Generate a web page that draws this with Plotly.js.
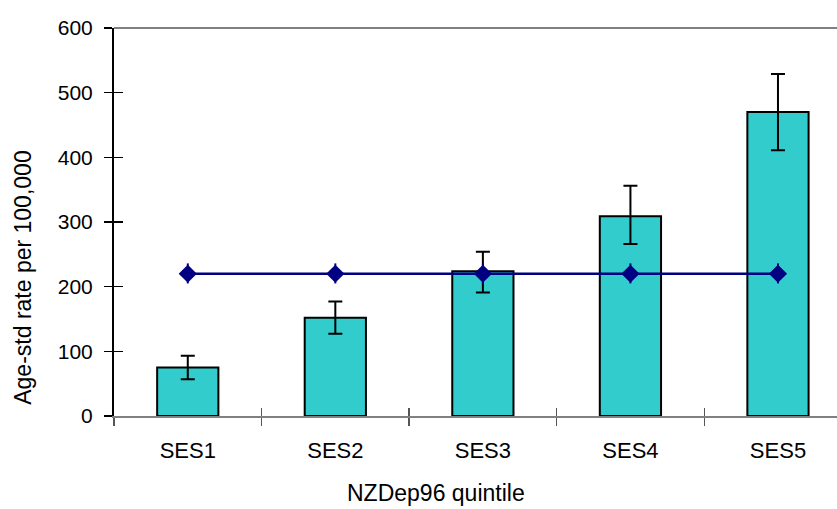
<!DOCTYPE html>
<html><head><meta charset="utf-8">
<script src="https://cdn.plot.ly/plotly-3.0.1.min.js"></script>
<style>html,body{margin:0;padding:0;background:#fff}</style>
</head><body>
<div id="chart" style="width:837px;height:509px"></div>
<script>
const categories = ["SES1", "SES2", "SES3", "SES4", "SES5"];
const rates = [75, 152, 224, 309, 470];
const ciUpper = [93, 177, 254, 356, 529];
const ciLower = [57, 127, 191, 266, 411];
const overallRate = [220, 220, 220, 220, 220];
const overallUpper = [236, 236, 236, 236, 236];
const overallLower = [205, 205, 205, 205, 205];
const yTicks = [0, 100, 200, 300, 400, 500, 600];

const font = "Liberation Sans, Arial, sans-serif";

const bars = {
  type: "bar", x: categories, y: rates, width: 0.415,
  marker: {color: "#33CCCC", line: {color: "#000", width: 2}},
  error_y: {type: "data", symmetric: false,
    array: rates.map((v, i) => ciUpper[i] - v),
    arrayminus: rates.map((v, i) => v - ciLower[i]),
    color: "#000", thickness: 2, width: 7},
  hoverinfo: "none", showlegend: false
};
const line = {
  type: "scatter", mode: "lines+markers", x: categories, y: overallRate,
  line: {color: "#000080", width: 2.5},
  marker: {symbol: "diamond", size: 14, color: "#000080"},
  error_y: {type: "data", symmetric: false,
    array: overallRate.map((v, i) => overallUpper[i] - v),
    arrayminus: overallRate.map((v, i) => v - overallLower[i]),
    color: "#000080", thickness: 2, width: 0},
  hoverinfo: "none", showlegend: false
};
const dummy = {type: "scatter", mode: "markers", x: [0], y: [0], xaxis: "x2", yaxis: "y2",
  marker: {opacity: 0}, hoverinfo: "none", showlegend: false};

const layout = {
  width: 837, height: 509,
  margin: {l: 114, r: 0, t: 28, b: 93},
  paper_bgcolor: "#fff", plot_bgcolor: "#fff",
  font: {family: font, size: 21, color: "#000"},
  xaxis: {type: "category", range: [-0.5, 4.4], showgrid: false, zeroline: false,
    showline: true, linecolor: "#808080", linewidth: 2,
    ticks: "outside", tickson: "boundaries", ticklen: 8, tickcolor: "#555", tickwidth: 1.3,
    tickfont: {family: font, size: 22, color: "#000"}, ticklabelstandoff: 14},
  yaxis: {range: [0, 600], tickvals: yTicks, showgrid: false, zeroline: false,
    showline: true, linecolor: "#000", linewidth: 2,
    ticks: "outside", ticklen: 8, tickcolor: "#000", tickwidth: 1.3,
    tickfont: {family: font, size: 21, color: "#000"}, ticklabelstandoff: 7},
  xaxis2: {overlaying: "x", range: [-0.5, 4.4], tickvals: [0.5, 1.5, 2.5, 3.5],
    showticklabels: false, ticks: "inside", ticklen: 8, tickcolor: "#555", tickwidth: 1.3,
    showgrid: false, zeroline: false, showline: false},
  yaxis2: {overlaying: "y", range: [0, 600], tickvals: yTicks,
    showticklabels: false, ticks: "inside", ticklen: 9, tickcolor: "#000", tickwidth: 1.3,
    showgrid: false, zeroline: false, showline: false},
  shapes: [{type: "line", xref: "paper", yref: "paper", x0: 0, x1: 1, y0: 1, y1: 1,
    line: {color: "#808080", width: 2}}],
  annotations: [
    {text: "NZDep96 quintile", xref: "paper", yref: "paper", x: 0.445, y: -0.198,
     xanchor: "center", yanchor: "middle", showarrow: false,
     font: {family: font, size: 23, color: "#000"}},
    {text: "Age-std rate per 100,000", xref: "paper", yref: "paper", x: -0.126, y: 0.356,
     xanchor: "center", yanchor: "middle", textangle: -90, showarrow: false,
     font: {family: font, size: 23, color: "#000"}}
  ]
};
Plotly.newPlot("chart", [bars, line, dummy], layout, {displayModeBar: false, staticPlot: true});
</script>
</body></html>
